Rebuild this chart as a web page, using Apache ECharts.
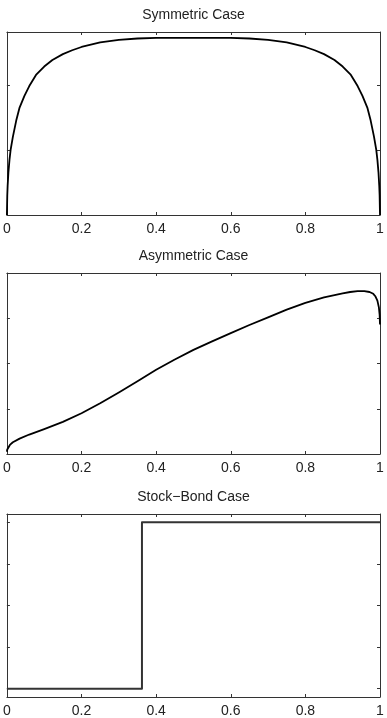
<!DOCTYPE html>
<html>
<head>
<meta charset="utf-8">
<script src="https://cdn.jsdelivr.net/npm/echarts@6/dist/echarts.min.js"></script>
<style>
  html, body { margin: 0; padding: 0; background: #fff; }
  #main { width: 387px; height: 718px; }
</style>
</head>
<body>
<div id="main"></div>
<script>
// * panel titles
const titles = ['Symmetric Case', 'Asymmetric Case', 'Stock\u2212Bond Case'];

// * shared x ticks
const xTicks = [0, 0.2, 0.4, 0.6, 0.8, 1];

// * Symmetric case
const symX = [0, 0.001, 0.002, 0.004, 0.007, 0.01, 0.016, 0.025, 0.034, 0.047, 0.06, 0.078, 0.1, 0.122, 0.15, 0.175, 0.2, 0.25, 0.3, 0.35, 0.4, 0.5,
    0.6, 0.65, 0.7, 0.75, 0.8, 0.825, 0.85, 0.878, 0.9, 0.922, 0.94, 0.953, 0.966, 0.975, 0.984, 0.99, 0.993, 0.996, 0.998, 0.999, 1];
const symY = [0, 0.3, 0.45, 0.65, 0.85, 1.0, 1.2, 1.45, 1.65, 1.83, 1.98, 2.15, 2.28, 2.38, 2.47, 2.53, 2.58, 2.65, 2.69, 2.71, 2.72, 2.72,
    2.72, 2.71, 2.69, 2.65, 2.58, 2.53, 2.47, 2.38, 2.28, 2.15, 1.98, 1.83, 1.65, 1.45, 1.2, 1.0, 0.85, 0.65, 0.45, 0.3, 0];
const symTicks = [0, 1, 2];

// * Asymmetric case
const asymX = [0, 0.001, 0.003, 0.008, 0.016, 0.034, 0.06, 0.1, 0.15, 0.2, 0.25, 0.3, 0.35, 0.4, 0.45, 0.5, 0.55,
    0.6, 0.65, 0.7, 0.75, 0.8, 0.85, 0.9, 0.92, 0.94, 0.958, 0.972, 0.982, 0.988, 0.993, 0.997, 0.999, 1];
const asymY = [0.05, 0.1, 0.14, 0.2, 0.26, 0.34, 0.43, 0.55, 0.71, 0.9, 1.12, 1.36, 1.61, 1.86, 2.09, 2.3, 2.49,
    2.67, 2.85, 3.02, 3.19, 3.34, 3.46, 3.55, 3.58, 3.6, 3.6, 3.58, 3.54, 3.48, 3.39, 3.24, 3.08, 2.86];
const asymTicks = [0, 1, 2, 3, 4];

// * Stock-Bond case
const sbX = [0, 0.362, 0.362, 1];
const sbY = [0, 0, 1, 1];
const sbTicks = [0, 0.25, 0.5, 0.75, 1];

const panels = [
    { top: 32, height: 183, yMin: 0, yMax: 2.81, ticks: symTicks, x: symX, y: symY, color: '#000', width: 1.8 },
    { top: 273, height: 181, yMin: 0, yMax: 4, ticks: asymTicks, x: asymX, y: asymY, color: '#000', width: 1.8 },
    { top: 514, height: 183, yMin: -0.05, yMax: 1.05, ticks: sbTicks, x: sbX, y: sbY, color: '#333', width: 2 }
];

const lineColor = '#333';
const font = '"Liberation Sans", Arial, sans-serif';

let grid = [], xAxis = [], yAxis = [], series = [], title = [];

panels.forEach((p, i) => {
    grid.push({ left: 4, right: 7, top: p.top, height: p.height, show: false });
    title.push({
        text: titles[i],
        left: 'center',
        top: p.top - 24,
        padding: 0,
        textStyle: { fontFamily: font, fontSize: 14, fontWeight: 'normal', color: '#222' }
    });
    ['bottom', 'top'].forEach(pos => {
        xAxis.push({
            type: 'value',
            gridIndex: i,
            position: pos,
            min: 0,
            max: 1,
            interval: 0.2,
            axisLine: { show: true, onZero: false, lineStyle: { color: lineColor, width: 1 } },
            axisTick: { show: true, inside: true, length: 3, customValues: xTicks, lineStyle: { color: lineColor } },
            axisLabel: {
                show: pos === 'bottom',
                margin: 7,
                fontFamily: font,
                fontSize: 14,
                color: '#222'
            },
            splitLine: { show: false }
        });
    });
    ['left', 'right'].forEach(pos => {
        yAxis.push({
            type: 'value',
            gridIndex: i,
            position: pos,
            min: p.yMin,
            max: p.yMax,
            axisLine: { show: true, onZero: false, lineStyle: { color: lineColor, width: 1 } },
            axisTick: { show: true, inside: true, length: 3, customValues: p.ticks, lineStyle: { color: lineColor } },
            axisLabel: { show: false },
            splitLine: { show: false }
        });
    });
    series.push({
        type: 'line',
        xAxisIndex: i * 2,
        yAxisIndex: i * 2,
        data: p.x.map((v, k) => [v, p.y[k]]),
        showSymbol: false,
        smooth: false,
        lineStyle: { color: p.color, width: p.width, join: 'round' },
        animation: false
    });
});

let chart = echarts.init(document.getElementById('main'));
chart.setOption({
    animation: false,
    backgroundColor: '#fff',
    title: title,
    grid: grid,
    xAxis: xAxis,
    yAxis: yAxis,
    series: series
});
</script>
</body>
</html>
